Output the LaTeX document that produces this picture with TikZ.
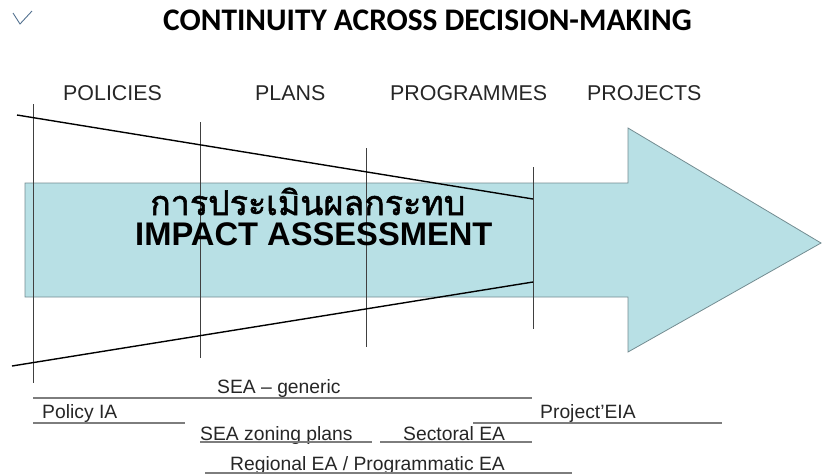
\documentclass[tikz,border=0pt]{standalone}
\usepackage{fontspec}
\setmainfont{Liberation Sans}
\newfontfamily\titlefont{Carlito}
\newfontfamily\thaifont[Script=Thai,FakeBold=1.6]{Loma}
\usetikzlibrary{positioning}
\definecolor{arrowfill}{RGB}{184,224,229}
\definecolor{arrowedge}{RGB}{115,140,145}
\definecolor{rulegray}{RGB}{125,125,125}
\definecolor{tickblue}{RGB}{85,115,145}

\begin{document}
\begin{tikzpicture}[x=1pt,y=-1pt,
    lbl/.style={anchor=base west,inner sep=0pt,text=black!85},
    head/.style={lbl,font=\fontsize{21.4}{21.4}\selectfont},
    small/.style={lbl,font=\fontsize{19.3}{19.3}\selectfont},
    stage/.style={draw=black!75,line width=0.7pt},
    funnel/.style={draw=black,line width=1.4pt},
    rule/.style={draw=rulegray,line width=1.2pt}]
    \useasboundingbox (0,0) rectangle (823,475);

    % the big arrow
    \draw[fill=arrowfill,draw=arrowedge,line width=0.8pt] (25,183) -- (628,183) -- (628,128) -- (821,243)
        -- (628,352) -- (628,297) -- (25,297) -- cycle;

    % stage dividers
    \coordinate (s1) at (33,104);  \coordinate (t1) at (33,383);
    \coordinate (s2) at (200,122); \coordinate (t2) at (200,358);
    \coordinate (s3) at (366,148); \coordinate (t3) at (366,347);
    \coordinate (s4) at (533,167); \coordinate (t4) at (533,329);
    \foreach \i in {1,...,4}
        \draw[stage] (s\i) -- (t\i);

    % funnel
    \coordinate (fa) at (17,115);  \coordinate (fb) at (533,199);
    \coordinate (fc) at (12,366);  \coordinate (fd) at (533,282);
    \draw[funnel] (fa) -- (fb);
    \draw[funnel] (fc) -- (fd);

    % tick and title
    \draw[tickblue,line width=0.9pt] (13,13) -- (20,24) -- (32,11);
    \node[lbl,text=black,font=\titlefont\bfseries\fontsize{31.4}{31.4}\selectfont] (title) at (163,30)
        {CONTINUITY ACROSS DECISION-MAKING};

    % stage headers
    \node[head] (pol) at (63,100) {POLICIES};
    \node[head] (pla) at (255,100) {PLANS};
    \node[head] (prg) at (390,100) {PROGRAMMES};
    \node[head] (prj) at (587,100) {PROJECTS};

    % arrow texts
    \node[lbl,text=black,font=\thaifont\fontsize{34}{34}\selectfont] (thai) at (150,215)
        {การประเมินผลกระทบ};
    \node[lbl,text=black,font=\bfseries\fontsize{32.7}{32.7}\selectfont] (ia) at (135,245)
        {IMPACT ASSESSMENT};

    % instruments
    \node[small] (sea) at (217,393) {SEA – generic};
    \node[small] (pia) at (42,418) {Policy IA};
    \node[small] (eia) at (540,418) {Project'EIA};
    \node[small] (zon) at (200,440) {SEA zoning plans};
    \node[small] (sec) at (403,440) {Sectoral EA};
    \node[small] (reg) at (230,470) {Regional EA / Programmatic EA};

    \draw[rule] (33,398) -- (532,398);
    \draw[rule] (33,423) -- (185,423);
    \draw[rule] (473,423) -- (722,423);
    \draw[rule] (200,442) -- (372,442);
    \draw[rule] (380,442) -- (532,442);
    \draw[rule] (205,473) -- (572,473);
\end{tikzpicture}
\end{document}
